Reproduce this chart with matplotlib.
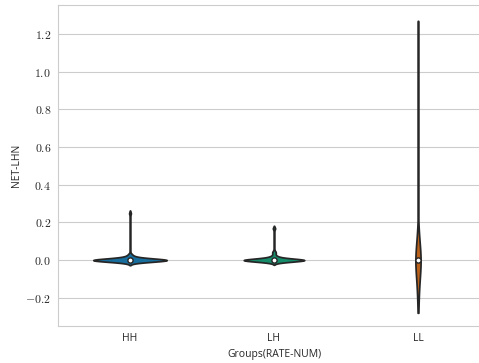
import numpy as np
import matplotlib
matplotlib.use("Agg")
import matplotlib.pyplot as plt
from matplotlib.ticker import FuncFormatter
import seaborn as sns

# values read/estimated off the reference violins
GROUPS = ["HH", "LH", "LL"]
hh_vals = [-0.012, -0.010, -0.009, -0.008, -0.007, -0.007, -0.006, -0.006, -0.005, -0.005,
           -0.004, -0.004, -0.003, -0.003, -0.003, -0.002, -0.002, -0.002, -0.001, -0.001,
           -0.001, -0.001, 0.0, 0.0, 0.0, 0.0, 0.0, 0.0, 0.0, 0.0,
           0.001, 0.001, 0.001, 0.001, 0.002, 0.002, 0.002, 0.003, 0.003, 0.003,
           0.004, 0.004, 0.005, 0.005, 0.006, 0.007, 0.008, 0.009, 0.011, 0.013,
           0.016, 0.02, 0.025, 0.032, 0.248]
lh_vals = [-0.011, -0.009, -0.008, -0.007, -0.006, -0.005, -0.004, -0.003, -0.003, -0.002,
           -0.002, -0.001, -0.001, -0.001, 0.0, 0.0, 0.0, 0.0, 0.0, 0.0,
           0.001, 0.001, 0.001, 0.002, 0.002, 0.003, 0.003, 0.004, 0.005, 0.006,
           0.008, 0.010, 0.013, 0.017, 0.022, 0.035, 0.045, 0.168]
ll_vals = [-0.28, -0.20, -0.16, -0.13, -0.10, -0.08, -0.06, -0.04, -0.03, -0.02,
           -0.01, 0.0, 0.0, 0.0, 0.01, 0.02, 0.03, 0.05, 0.07, 0.09,
           0.12, 0.15, 0.40, 0.70, 1.27]
Y_TICKS = [-0.2, 0.0, 0.2, 0.4, 0.6, 0.8, 1.0, 1.2]

sns.set_style("whitegrid")
plt.rcParams["font.family"] = ["Open Sans", "DejaVu Sans"]
plt.rcParams["mathtext.fontset"] = "cm"

cb = sns.color_palette("colorblind")
pal = [cb[0], cb[2], cb[3]]
widths = [0.51, 0.42, 0.036]     # max violin width per group
bw_adj = [0.5, 0.5, 0.45]
cuts = [2, 2, 0]
EDGE = "#262626"

fig = plt.figure(figsize=(4.79, 3.63), dpi=100)
ax = fig.add_axes([58/479, 37/363, 432/479, 321/363])
data = [hh_vals, lh_vals, ll_vals]
for i, (g, vals) in enumerate(zip(GROUPS, data)):
    sns.violinplot(x=[g]*len(vals), y=vals, order=GROUPS, color=pal[i],
                   width=widths[i], bw_adjust=bw_adj[i], cut=cuts[i], density_norm="width",
                   linewidth=1.25, linecolor=EDGE, gridsize=500, inner=None, ax=ax)
for c in ax.collections:
    c.set_joinstyle("round")

# median markers (white dot, dark ring)
ax.scatter(range(len(GROUPS)), [np.median(v) for v in data], s=14, color="white",
           edgecolor=EDGE, linewidth=1.0, zorder=5)

ax.set_xlim(-0.5, 2.5)
ax.set_ylim(-0.35, 1.354)
ax.set_yticks(Y_TICKS)
ax.yaxis.set_major_formatter(FuncFormatter(lambda v, p: f"${v:.1f}$"))
ax.tick_params(axis="y", length=0, pad=5, labelsize=8.5)
ax.tick_params(axis="x", length=0, pad=5, labelsize=7.5)
ax.set_xlabel("Groups(RATE-NUM)", fontsize=7.5, labelpad=4)
ax.set_ylabel("NET-LHN", fontsize=7.5, labelpad=2.5)
ax.grid(axis="x", visible=False)
fig.savefig("out.png", dpi=100)
